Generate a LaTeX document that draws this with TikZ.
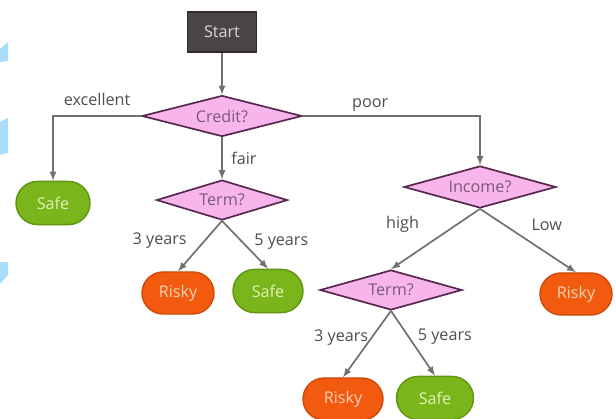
\documentclass[tikz,border=0pt]{standalone}
\usepackage{fontspec}
\setmainfont{Open Sans}
\usetikzlibrary{shapes.geometric, shapes.misc}

\definecolor{startgray}{HTML}{4B4546}
\definecolor{startedge}{HTML}{2E2A2A}
\definecolor{starttext}{HTML}{DDD5D5}
\definecolor{testpink}{HTML}{F7B5EC}
\definecolor{testedge}{HTML}{55284C}
\definecolor{testtext}{HTML}{7A5A76}
\definecolor{safegreen}{HTML}{7AB51B}
\definecolor{safeedge}{HTML}{5F9512}
\definecolor{safetext}{HTML}{E2F2B4}
\definecolor{riskyorange}{HTML}{F25A10}
\definecolor{riskyedge}{HTML}{CF4A0C}
\definecolor{riskytext}{HTML}{FCD2B6}
\definecolor{edgegray}{HTML}{707070}
\definecolor{labelgray}{HTML}{4E4E4E}
\definecolor{sideblue}{HTML}{AADDFA}

\begin{document}
\begin{tikzpicture}[x=0.025cm, y=-0.025cm, node distance={2.1cm},
    font=\fontsize{11.5}{13}\selectfont,
    start/.style = {draw=startedge, fill=startgray, text=starttext, line width=1pt,
        minimum width=1.725cm, minimum height=1cm, inner sep=0pt},
    test/.style = {diamond, draw=testedge, fill=testpink, text=testtext, line width=1.2pt,
        aspect=4, inner sep=0pt},
    safe/.style = {rounded rectangle, draw=safeedge, fill=safegreen, text=safetext, line width=1pt,
        minimum width=1.85cm, minimum height=1.08cm, inner sep=0pt},
    risky/.style = {rounded rectangle, draw=riskyedge, fill=riskyorange, text=riskytext, line width=1pt,
        minimum width=1.8cm, minimum height=1.05cm, inner sep=0pt},
    edge/.style = {draw=edgegray, line width=1.2pt, -latex},
    lbl/.style = {text=labelgray, inner sep=1pt}]
        \useasboundingbox (0,0) rectangle (616,419);

        % bits of blue at the left border
        \fill[sideblue] (0,49) -- (8,42) -- (8,61) -- (0,62) -- cycle;
        \fill[sideblue] (0,122) -- (8,118) -- (8,153) -- (0,155) -- cycle;
        \fill[sideblue] (0,262) -- (8,262) -- (8,275) -- (0,284) -- cycle;

        \node[start] (start) at (222,32) {Start};
        \node[test, minimum width=4cm, minimum height=1.025cm] (credit) [below of = start] {Credit?};
        \node[test, minimum width=3.275cm, minimum height=1cm] (termA) [below of = credit] {Term?};
        \node[safe] (safeA) at (53,203) {Safe};
        \node[risky] (riskyA) at (178,293) {Risky};
        \node[safe, minimum width=1.75cm] (safeB) at (268,291) {Safe};
        \node[test, minimum width=3.8cm, minimum height=1.05cm] (income) at (480,187) {Income?};
        \node[test, minimum width=3.55cm, minimum height=1cm] (termB) at (391,290) {Term?};
        \node[risky] (riskyB) at (576,294) {Risky};
        \node[risky, minimum width=2cm] (riskyC) at (343,399) {Risky};
        \node[safe, minimum width=1.925cm] (safeC) at (435,398) {Safe};

        \draw[edge] (start) -- (credit);
        \draw[edge] (credit.west) -| (safeA.north) node[lbl, pos=0.25, above=6pt] {excellent};
        \draw[edge] (credit) -- (termA) node[lbl, midway, right=5pt] {fair};
        \draw[edge] (credit.east) -| (income.north) node[lbl, pos=0.19, above=2pt] {poor};
        \draw[edge] (termA.south) -- (riskyA.north) node[lbl, pos=0.4, left=11pt] {3 years};
        \draw[edge] (termA.south) -- (safeB.north) node[lbl, pos=0.44, right=7pt] {5 years};
        \draw[edge] (income.south) -- (termB.north) node[lbl, pos=0.25, left=26pt] {high};
        \draw[edge] (income.south) -- (riskyB.north) node[lbl, pos=0.25, right=18pt] {Low};
        \draw[edge] (termB.south) -- (riskyC.north) node[lbl, pos=0.4, left=1pt] {3 years};
        \draw[edge] (termB.south) -- (safeC.north) node[lbl, pos=0.4, right=5pt] {5 years};

    \end{tikzpicture}
\end{document}
